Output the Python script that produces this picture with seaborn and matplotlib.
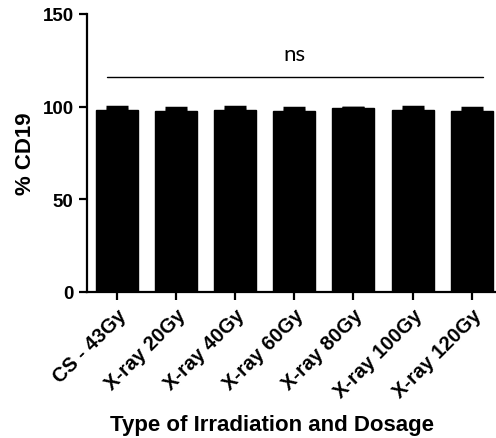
import matplotlib
matplotlib.use("Agg")
import matplotlib.pyplot as plt
import numpy as np
import pandas as pd
import seaborn as sns

# data
groups = ["CS - 43Gy", "X-ray 20Gy", "X-ray 40Gy", "X-ray 60Gy",
          "X-ray 80Gy", "X-ray 100Gy", "X-ray 120Gy"]
cd19_mean = [98.4, 97.7, 98.4, 97.7, 99.3, 98.4, 97.7]
cd19_err = [1.5, 1.5, 1.5, 1.5, 0.0, 1.6, 1.5]

df = pd.DataFrame({"group": groups, "cd19": cd19_mean})

sns.set_style("ticks")
plt.rcParams["font.family"] = ["Liberation Sans", "DejaVu Sans"]
plt.rcParams["text.color"] = "black"
plt.rcParams["axes.labelcolor"] = "black"
plt.rcParams["xtick.color"] = "black"
plt.rcParams["ytick.color"] = "black"
plt.rcParams["axes.edgecolor"] = "black"

fig = plt.figure(figsize=(4.96, 4.39), dpi=100)
ax = fig.add_axes([0.175, 0.333, 0.825, 0.633])

sns.barplot(data=df, x="group", y="cd19", color="black", width=0.71,
            errorbar=None, ax=ax, edgecolor="black")

# upper error bars only
x = np.arange(len(groups))
ax.errorbar(x, cd19_mean, yerr=[np.zeros(len(groups)), cd19_err],
            fmt="none", ecolor="black", elinewidth=2, capsize=8, capthick=2.5)

# significance bar
ax.plot([-0.17, 6.19], [115.7, 115.7], color="black", lw=1)
ax.text(3.0, 128.5, "ns", ha="center", va="center", fontsize=16,
        family=["Lato", "DejaVu Sans"])

ax.set_ylim(0, 150)
ax.set_xlim(-0.51, 6.41)
ax.set_yticks([0, 50, 100, 150])

for side in ["left", "bottom"]:
    ax.spines[side].set_linewidth(1.6)
sns.despine(ax=ax)

ax.tick_params(axis="both", width=1.6, length=6, labelsize=13.5)
for lbl in ax.get_yticklabels():
    lbl.set_fontweight("bold")
ax.set_xticks(x)
ax.set_xticklabels(groups, rotation=45, ha="right", rotation_mode="anchor",
                   fontweight="bold", fontsize=14.5)

ax.set_ylabel("% CD19", fontsize=16, fontweight="bold")
ax.yaxis.set_label_coords(-0.125, 0.5)
ax.set_xlabel("Type of Irradiation and Dosage", fontsize=16, fontweight="bold")
ax.xaxis.set_label_coords(0.452, -0.44)

fig.savefig("out.png", dpi=100)
